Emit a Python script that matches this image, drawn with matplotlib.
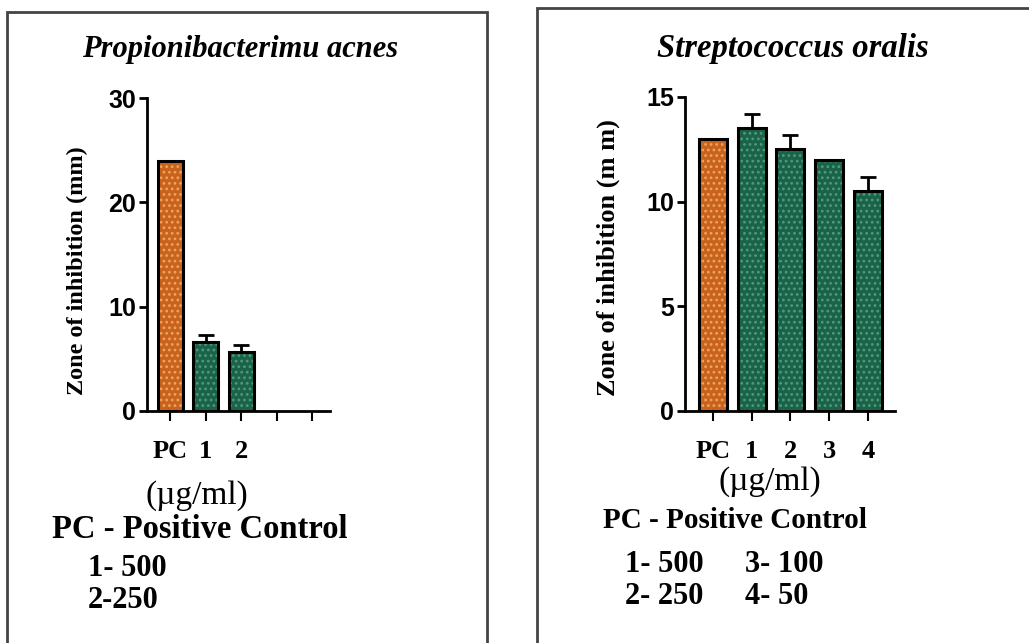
import matplotlib
matplotlib.use('Agg')
import matplotlib.pyplot as plt
from matplotlib.patches import Rectangle

# Propionibacterium acnes
pa_cats = ['PC', '1', '2', '', '']
pa_vals = [24.0, 6.6, 5.65, 0, 0]
pa_err = [0, 0.65, 0.65, 0, 0]

# Streptococcus oralis
so_cats = ['PC', '1', '2', '3', '4']
so_vals = [13.0, 13.5, 12.5, 12.0, 10.5]
so_err = [0, 0.7, 0.7, 0, 0.7]

orange = '#c9621c'
orange_dot = '#eda55c'
green = '#1a6349'
green_dot = '#4f9a7c'

plt.rcParams['font.family'] = ['Liberation Serif', 'DejaVu Serif']
plt.rcParams['hatch.linewidth'] = 1.2

fig = plt.figure(figsize=(10.29, 6.43), dpi=100)

# panel frames
fig.patches.append(Rectangle((7/1029, -0.01), (487-7)/1029, 1 - 12/643 + 0.01,
                             transform=fig.transFigure, fill=False, ec='#444444', lw=2))
fig.patches.append(Rectangle((537/1029, -0.01), 0.6, 1 - 8/643 + 0.01,
                             transform=fig.transFigure, fill=False, ec='#444444', lw=2))


def panel(ax, cats, vals, err, ymax, step, xlim, width, ylabel, ylsize):
    x = list(range(len(cats)))
    faces = [orange] + [green] * (len(cats) - 1)
    dots = [orange_dot] + [green_dot] * (len(cats) - 1)
    shown = [i for i in x if vals[i] > 0]
    for i in shown:
        ax.bar(x[i], vals[i], width, color=faces[i], edgecolor=dots[i], hatch='...', lw=0, zorder=2)
        ax.bar(x[i], vals[i], width, fill=False, edgecolor='black', lw=2.2, zorder=3)
        if err[i] > 0:
            ax.errorbar(x[i], vals[i], yerr=[[0], [err[i]]], color='black', lw=2,
                        capsize=6, capthick=2, zorder=1)
    ax.set_xlim(*xlim)
    ax.set_ylim(0, ymax)
    ax.set_yticks(range(0, ymax + 1, step))
    ax.set_xticks(x)
    ax.set_xticklabels(cats, fontsize=19, fontweight='bold')
    for lab in ax.get_yticklabels():
        lab.set_fontfamily('Liberation Sans')
        lab.set_fontweight('bold')
        lab.set_fontsize(18)
    ax.spines['top'].set_visible(False)
    ax.spines['right'].set_visible(False)
    ax.spines['left'].set_linewidth(2)
    ax.spines['bottom'].set_linewidth(2)
    ax.tick_params(axis='y', length=6, width=2, pad=2)
    ax.tick_params(axis='x', length=7, width=1.5, pad=14)
    ax.set_ylabel(ylabel, fontsize=ylsize, fontweight='bold')


ax1 = fig.add_axes([147/1029, 1 - 411/643, 183/1029, 313/643])
panel(ax1, pa_cats, pa_vals, pa_err, 30, 10, (-0.65, 4.5), 0.7, 'Zone of inhibition (mm)', 17.5)
ax1.yaxis.set_label_coords(-0.32, 0.45)

ax2 = fig.add_axes([685/1029, 1 - 411/643, 210/1029, 314/643])
panel(ax2, so_cats, so_vals, so_err, 15, 5, (-0.72, 4.7), 0.72, 'Zone of inhibition (m m)', 19)
ax2.yaxis.set_label_coords(-0.31, 0.49)

# titles
fig.text(240/1029, 1 - 50/643, 'Propionibacterimu acnes', ha='center', va='center',
         fontsize=22, fontweight='bold', style='italic')
fig.text(793/1029, 1 - 48/643, 'Streptococcus oralis', ha='center', va='center',
         fontsize=23.5, fontweight='bold', style='italic')

# notes, left
fig.text(197/1029, 1 - 496/643, '(µg/ml)', ha='center', va='center', fontsize=24)
fig.text(52/1029, 1 - 530/643, 'PC - Positive Control', ha='left', va='center',
         fontsize=23.5, fontweight='bold')
fig.text(88/1029, 1 - 569/643, '1- 500', ha='left', va='center', fontsize=22, fontweight='bold')
fig.text(88/1029, 1 - 600/643, '2-250', ha='left', va='center', fontsize=22, fontweight='bold')

# notes, right
fig.text(770/1029, 1 - 482/643, '(µg/ml)', ha='center', va='center', fontsize=24)
fig.text(603/1029, 1 - 520/643, 'PC - Positive Control', ha='left', va='center',
         fontsize=21, fontweight='bold')
fig.text(625/1029, 1 - 565/643, '1- 500', ha='left', va='center', fontsize=22, fontweight='bold')
fig.text(745/1029, 1 - 565/643, '3- 100', ha='left', va='center', fontsize=22, fontweight='bold')
fig.text(625/1029, 1 - 596/643, '2- 250', ha='left', va='center', fontsize=22, fontweight='bold')
fig.text(745/1029, 1 - 596/643, '4- 50', ha='left', va='center', fontsize=22, fontweight='bold')

fig.savefig('out.png', dpi=100)
